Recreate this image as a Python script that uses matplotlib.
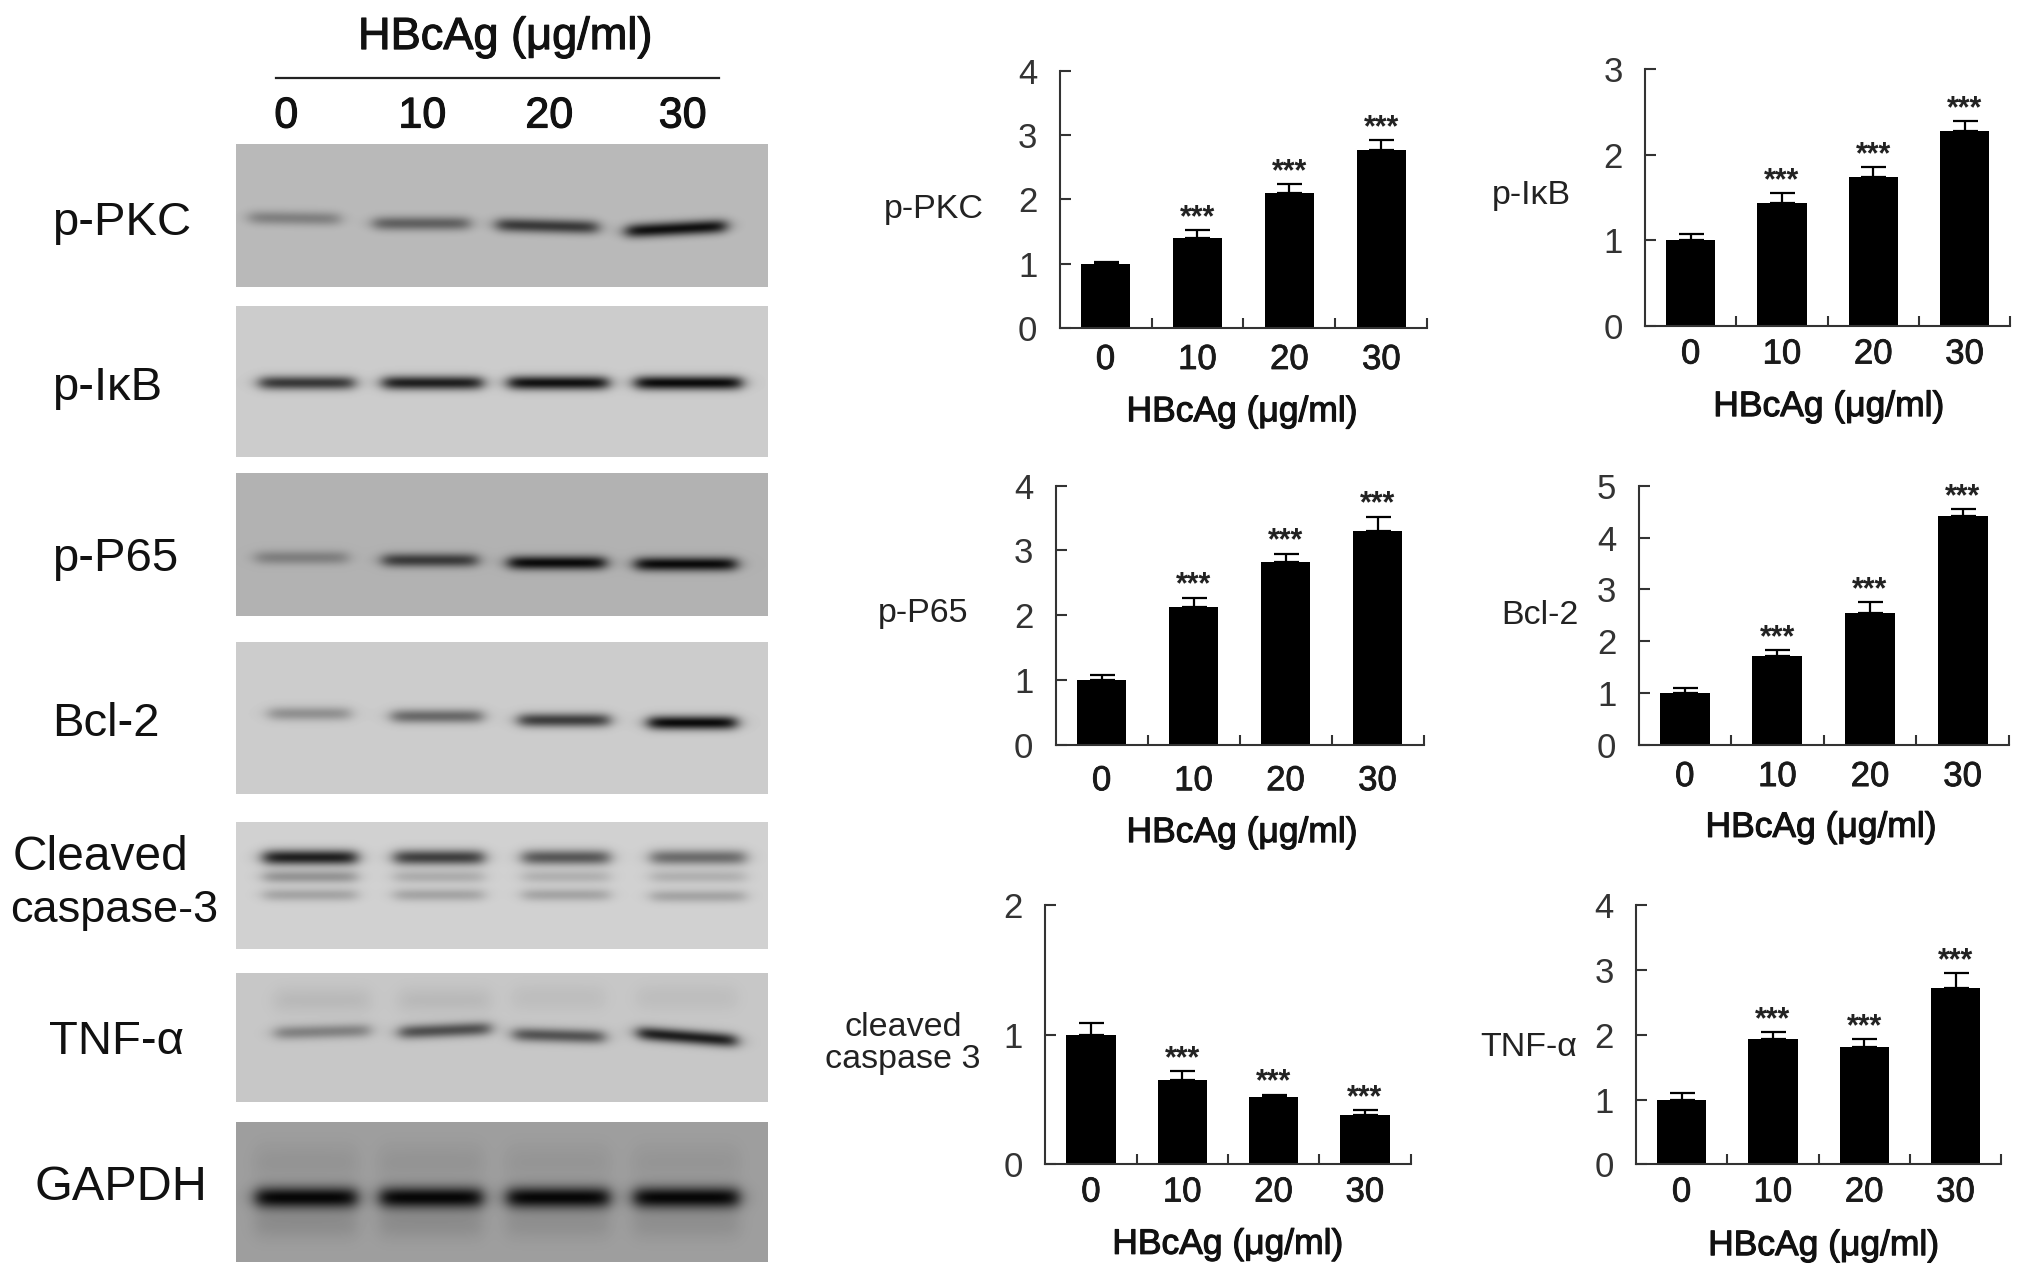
import numpy as np
import matplotlib
matplotlib.use('Agg')
import matplotlib.pyplot as plt
import matplotlib.patheffects as pe

plt.rcParams['font.family'] = ['Liberation Sans', 'DejaVu Sans']

S = 2031 / 1568  # reference was measured on the 1568 wide copy
W, H = 2031, 1278

doses = ['0', '10', '20', '30']

# bar values
pkc = [1.0, 1.4, 2.1, 2.77]
pkc_err = [0.03, 0.12, 0.14, 0.15]
ikb = [1.0, 1.44, 1.74, 2.28]
ikb_err = [0.08, 0.11, 0.11, 0.11]
p65 = [1.0, 2.12, 2.82, 3.3]
p65_err = [0.07, 0.15, 0.13, 0.22]
bcl2 = [1.0, 1.72, 2.55, 4.42]
bcl2_err = [0.09, 0.1, 0.2, 0.13]
casp3 = [1.0, 0.65, 0.52, 0.38]
casp3_err = [0.09, 0.07, 0.02, 0.04]
tnf = [1.0, 1.93, 1.81, 2.73]
tnf_err = [0.1, 0.11, 0.12, 0.22]
stars = ['', '***', '***', '***']

# blot band darkness, one row per band, one value per lane
d_pkc = [[0.32, 0.5, 0.72, 0.95]]
d_ikb = [[0.75, 0.88, 0.95, 0.98]]
d_p65 = [[0.3, 0.7, 0.98, 0.98]]
d_bcl2 = [[0.3, 0.5, 0.72, 0.98]]
d_casp = [[0.88, 0.72, 0.6, 0.5], [0.3, 0.18, 0.16, 0.16], [0.22, 0.22, 0.22, 0.22]]
d_tnf = [[0.36, 0.62, 0.6, 0.88], [0.07, 0.07, 0.05, 0.05]]
d_gapdh = [[1.0, 1.0, 1.0, 1.0], [0.12, 0.12, 0.1, 0.1], [0.07, 0.07, 0.06, 0.06]]


def render_blot(y0, y1, bg, lanes, centers, thick, dark, tilt=None):
    # grey panel with soft horizontal bands, in reference pixel coords
    xs = np.arange(182, 592, 1 / S)
    ys = np.arange(y0, y1, 1 / S)
    X, Y = np.meshgrid(xs, ys)
    img = np.zeros_like(X)
    for b in range(len(dark)):
        for i, (a, c) in enumerate(lanes):
            yc = centers[b][i]
            if tilt is not None and b == 0:
                yc = yc + tilt[i] * (X - (a + c) / 2) / (c - a)
            edge = 1 / (1 + np.exp(-(X - a) / 3.5)) * 1 / (1 + np.exp((X - c) / 3.5))
            img += dark[b][i] * edge * np.exp(-((Y - yc) / thick[b]) ** 2)
    img = np.clip(img, 0, 1)
    return bg * (1 - img) + 0.03 * img, (182, 592, y1, y0)


blots = [
    (112, 222, 0.73, [(192, 262), (288, 362), (383, 461), (483, 560)],
     [[169, 173, 175, 177]], [5.5], d_pkc, [1, 0, 2, -4]),
    (237, 353, 0.80, [(200, 273), (295, 372), (392, 469), (490, 572)],
     [[296, 296, 296, 296]], [5.5], d_ikb, None),
    (366, 476, 0.70, [(197, 268), (295, 368), (392, 467), (490, 568)],
     [[431, 433, 435, 436]], [5.5], d_p65, None),
    (496, 613, 0.80, [(207, 270), (302, 372), (400, 470), (500, 568)],
     [[551, 553, 556, 558]], [5.5], d_bcl2, None),
    (635, 733, 0.82, [(203, 275), (304, 373), (403, 470), (502, 575)],
     [[662, 662, 662, 662], [677, 677, 677, 677], [691, 691, 691, 692]],
     [6, 5, 5], d_casp, None),
    (752, 851, 0.78, [(212, 285), (308, 378), (396, 466), (492, 568)],
     [[797, 796, 800, 801], [773, 773, 771, 771]], [5.5, 10], d_tnf, [-2, -3, 2, 6]),
    (867, 975, 0.62, [(197, 275), (293, 372), (391, 470), (489, 570)],
     [[925, 925, 925, 925], [945, 945, 945, 945], [898, 898, 898, 898]],
     [8.5, 12, 14], d_gapdh, None),
]

blot_labels = [
    ('p-PKC', 40, 172, 34), ('p-I\u03baB', 40, 300, 34), ('p-P65', 40, 432, 34),
    ('Bcl-2', 40, 559, 34), ('Cleaved', 10, 662, 34.5), ('caspase-3', 8, 703, 32.5),
    ('TNF-\u03b1', 38, 805, 34), ('GAPDH', 27, 917, 35),
]

# x axis start, y top, y bottom, lane spacing, y max, values, errors, ylabel, ylabel pos, xlabel pos, tick pad
charts = [
    (818, 55, 253, 71, 4, pkc, pkc_err, 'p-PKC', (721, 162), (959, 318), 11),
    (1270, 53, 252, 70.5, 3, ikb, ikb_err, 'p-I\u03baB', (1182, 151), (1412, 314), 8),
    (815, 375, 575, 71, 4, p65, p65_err, 'p-P65', (713, 474), (959, 643), 14),
    (1265, 375, 575, 71.5, 5, bcl2, bcl2_err, 'Bcl-2', (1189, 475), (1406, 639), 11),
    (807, 699, 899, 70.5, 2, casp3, casp3_err, 'cleaved\ncaspase 3', (697, 806), (948, 961), 8),
    (1263, 699, 899, 70.5, 4, tnf, tnf_err, 'TNF-\u03b1', (1180, 809), (1408, 962), 8),
]

fig = plt.figure(figsize=(W / 100, H / 100), dpi=100)
bg_ax = fig.add_axes([0, 0, 1, 1])
bg_ax.axis('off')

for y0, y1, bg, lanes, centers, thick, dark, tilt in blots:
    img, ext = render_blot(y0, y1, bg, lanes, centers, thick, dark, tilt)
    bg_ax.imshow(img, cmap='gray', vmin=0, vmax=1, extent=ext, aspect='auto',
                 interpolation='bilinear')
bg_ax.set_xlim(0, 1568)
bg_ax.set_ylim(987, 0)

heavy = [pe.withStroke(linewidth=0.8, foreground='#111111')]

for txt, x, y, fs in blot_labels:
    bg_ax.text(x, y, txt, fontsize=fs, ha='left', va='center', color='#111111')

bg_ax.text(390, 29, 'HBcAg (\u03bcg/ml)', fontsize=32.5, ha='center', va='center',
           color='#111111', path_effects=heavy)
bg_ax.plot([213, 555], [60, 60], color='#222222', lw=1.6)
for txt, x in zip(doses, [221, 326, 424, 527]):
    bg_ax.text(x, 90, txt, fontsize=31, ha='center', va='center', color='#111111',
               path_effects=heavy)

for x0, ytop, ybot, step, ymax, vals, errs, ylab, ylab_pos, xlab_pos, tpad in charts:
    left = x0 * S / W
    bottom = 1 - ybot * S / H
    ax = fig.add_axes([left, bottom, 4 * step * S / W, (ybot - ytop) * S / H])
    ax.patch.set_alpha(0)
    pos = np.arange(4)
    ax.bar(pos, vals, width=0.54, color='black')
    ax.errorbar(pos, vals, yerr=[np.zeros(4), errs], fmt='none', ecolor='black',
                elinewidth=1.6, capsize=9, capthick=1.6)
    ax.set_xlim(-0.5, 3.5)
    ax.set_ylim(0, ymax)
    ax.set_yticks(range(ymax + 1))
    ax.set_xticks(pos)
    ax.set_xticklabels(doses)
    ax.set_xticks(np.append(pos[:-1] + 0.5, 3.5), minor=True)
    ax.tick_params(axis='x', which='major', length=0, pad=tpad, labelsize=25, colors='#1a1a1a')
    ax.tick_params(axis='x', which='minor', direction='in', length=7, width=1.5, color='#333333')
    ax.tick_params(axis='y', direction='in', length=8, width=1.5, pad=16, labelsize=25,
                   color='#333333', labelcolor='#333333')
    for lab in ax.get_xticklabels():
        lab.set_path_effects([pe.withStroke(linewidth=0.6, foreground='#1a1a1a')])
    for s in ['top', 'right']:
        ax.spines[s].set_visible(False)
    for s in ['left', 'bottom']:
        ax.spines[s].set_linewidth(1.5)
        ax.spines[s].set_color('#333333')
    for i in range(4):
        ax.annotate(stars[i], xy=(pos[i], vals[i] + errs[i]), xytext=(0, 3),
                    textcoords='offset points', ha='center', va='baseline',
                    fontsize=22, fontweight='bold', color='#222222')
    bg_ax.text(ylab_pos[0], ylab_pos[1], ylab, fontsize=24.5, ha='center', va='center',
               color='#222222', linespacing=1.05)
    bg_ax.text(xlab_pos[0], xlab_pos[1], 'HBcAg (\u03bcg/ml)', fontsize=25.5, ha='center',
               va='center', color='#111111', path_effects=heavy)

fig.savefig('out.png', dpi=100)
plt.close()
